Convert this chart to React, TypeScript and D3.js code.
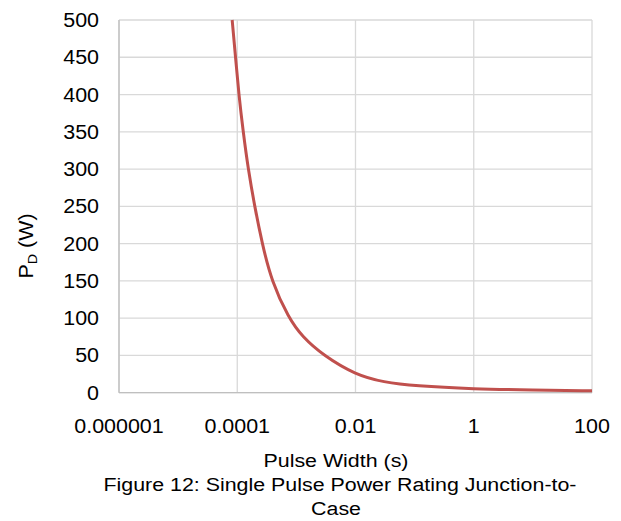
import React from "react";
import * as d3 from "d3";

// Pulse width (s) and the single-pulse power rating (W)
const pulseWidth = [8.2e-5, 9.36e-5, 1.064e-4, 1.26e-4, 1.53e-4, 1.97e-4, 2.64e-4, 3.79e-4, 7.4e-4, 1.26e-3, 2.85e-3, 0.01, 0.03, 0.1, 1, 10, 100];
const powerRating = [500, 450, 400, 350, 300, 250, 200, 150, 100, 75, 50, 24, 14, 9, 5, 3.5, 2.5];

const xTicks = [1e-6, 1e-4, 1e-2, 1, 100];
const xTickLabels = ["0.000001", "0.0001", "0.01", "1", "100"];
const yTicks = [0, 50, 100, 150, 200, 250, 300, 350, 400, 450, 500];

const W = 621;
const H = 521;
const left = 119;
const right = 592;
const top = 20;
const bottom = 392.7;
const font = "Liberation Sans, Arial, sans-serif";

// Text drawn with a slight horizontal stretch
function Label(props: {
  x: number;
  y: number;
  size: number;
  sx: number;
  anchor: "start" | "middle" | "end";
  children: React.ReactNode;
}) {
  return (
    <text
      transform={`translate(${props.x},${props.y}) scale(${props.sx},1)`}
      textAnchor={props.anchor}
      fontSize={props.size}
      fill="#000"
    >
      {props.children}
    </text>
  );
}

export default function App() {
  const x = d3.scaleLog().domain([1e-6, 100]).range([left, right]);
  const y = d3.scaleLinear().domain([0, 500]).range([bottom, top]);
  const pts = pulseWidth.map((t, i) => [t, powerRating[i]] as [number, number]);
  const line = d3
    .line<[number, number]>()
    .x((d) => x(d[0]))
    .y((d) => y(d[1]))
    .curve(d3.curveBasis);

  return (
    <svg width={W} height={H} style={{ position: "absolute", left: 0, top: 0 }} fontFamily={font}>
      <rect width={W} height={H} fill="#fff" />
      {yTicks.map((v) => (
        <line key={"gy" + v} x1={left} x2={right} y1={y(v)} y2={y(v)} stroke="#d9d9d9" strokeWidth={1.3} />
      ))}
      {xTicks.map((v) => (
        <line key={"gx" + v} x1={x(v)} x2={x(v)} y1={top} y2={bottom} stroke="#d9d9d9" strokeWidth={1.3} />
      ))}
      <line x1={left} x2={left} y1={top} y2={bottom} stroke="#bfbfbf" strokeWidth={1.3} />
      <line x1={left} x2={right} y1={bottom} y2={bottom} stroke="#bfbfbf" strokeWidth={1.3} />
      <path d={line(pts) || ""} fill="none" stroke="#c0504d" strokeWidth={3} strokeLinejoin="round" />
      {yTicks.map((v) => (
        <Label key={"ty" + v} x={99} y={y(v) + 7} size={19.5} sx={1.1} anchor="end">
          {v}
        </Label>
      ))}
      {xTicks.map((v, i) => (
        <Label key={"tx" + v} x={x(v)} y={433} size={19.5} sx={1.1} anchor="middle">
          {xTickLabels[i]}
        </Label>
      ))}
      <text transform={`translate(33,246) rotate(-90) scale(1.1,1)`} textAnchor="middle" fontSize={19.5} fill="#000">
        P<tspan fontSize={13} dy={4}>D</tspan>
        <tspan dy={-4}> (W)</tspan>
      </text>
      <Label x={336} y={467} size={18.6} sx={1.15} anchor="middle">
        Pulse Width (s)
      </Label>
      <Label x={340} y={491} size={18.6} sx={1.15} anchor="middle">
        Figure 12: Single Pulse Power Rating Junction-to-
      </Label>
      <Label x={336} y={515} size={18.6} sx={1.15} anchor="middle">
        Case
      </Label>
    </svg>
  );
}
